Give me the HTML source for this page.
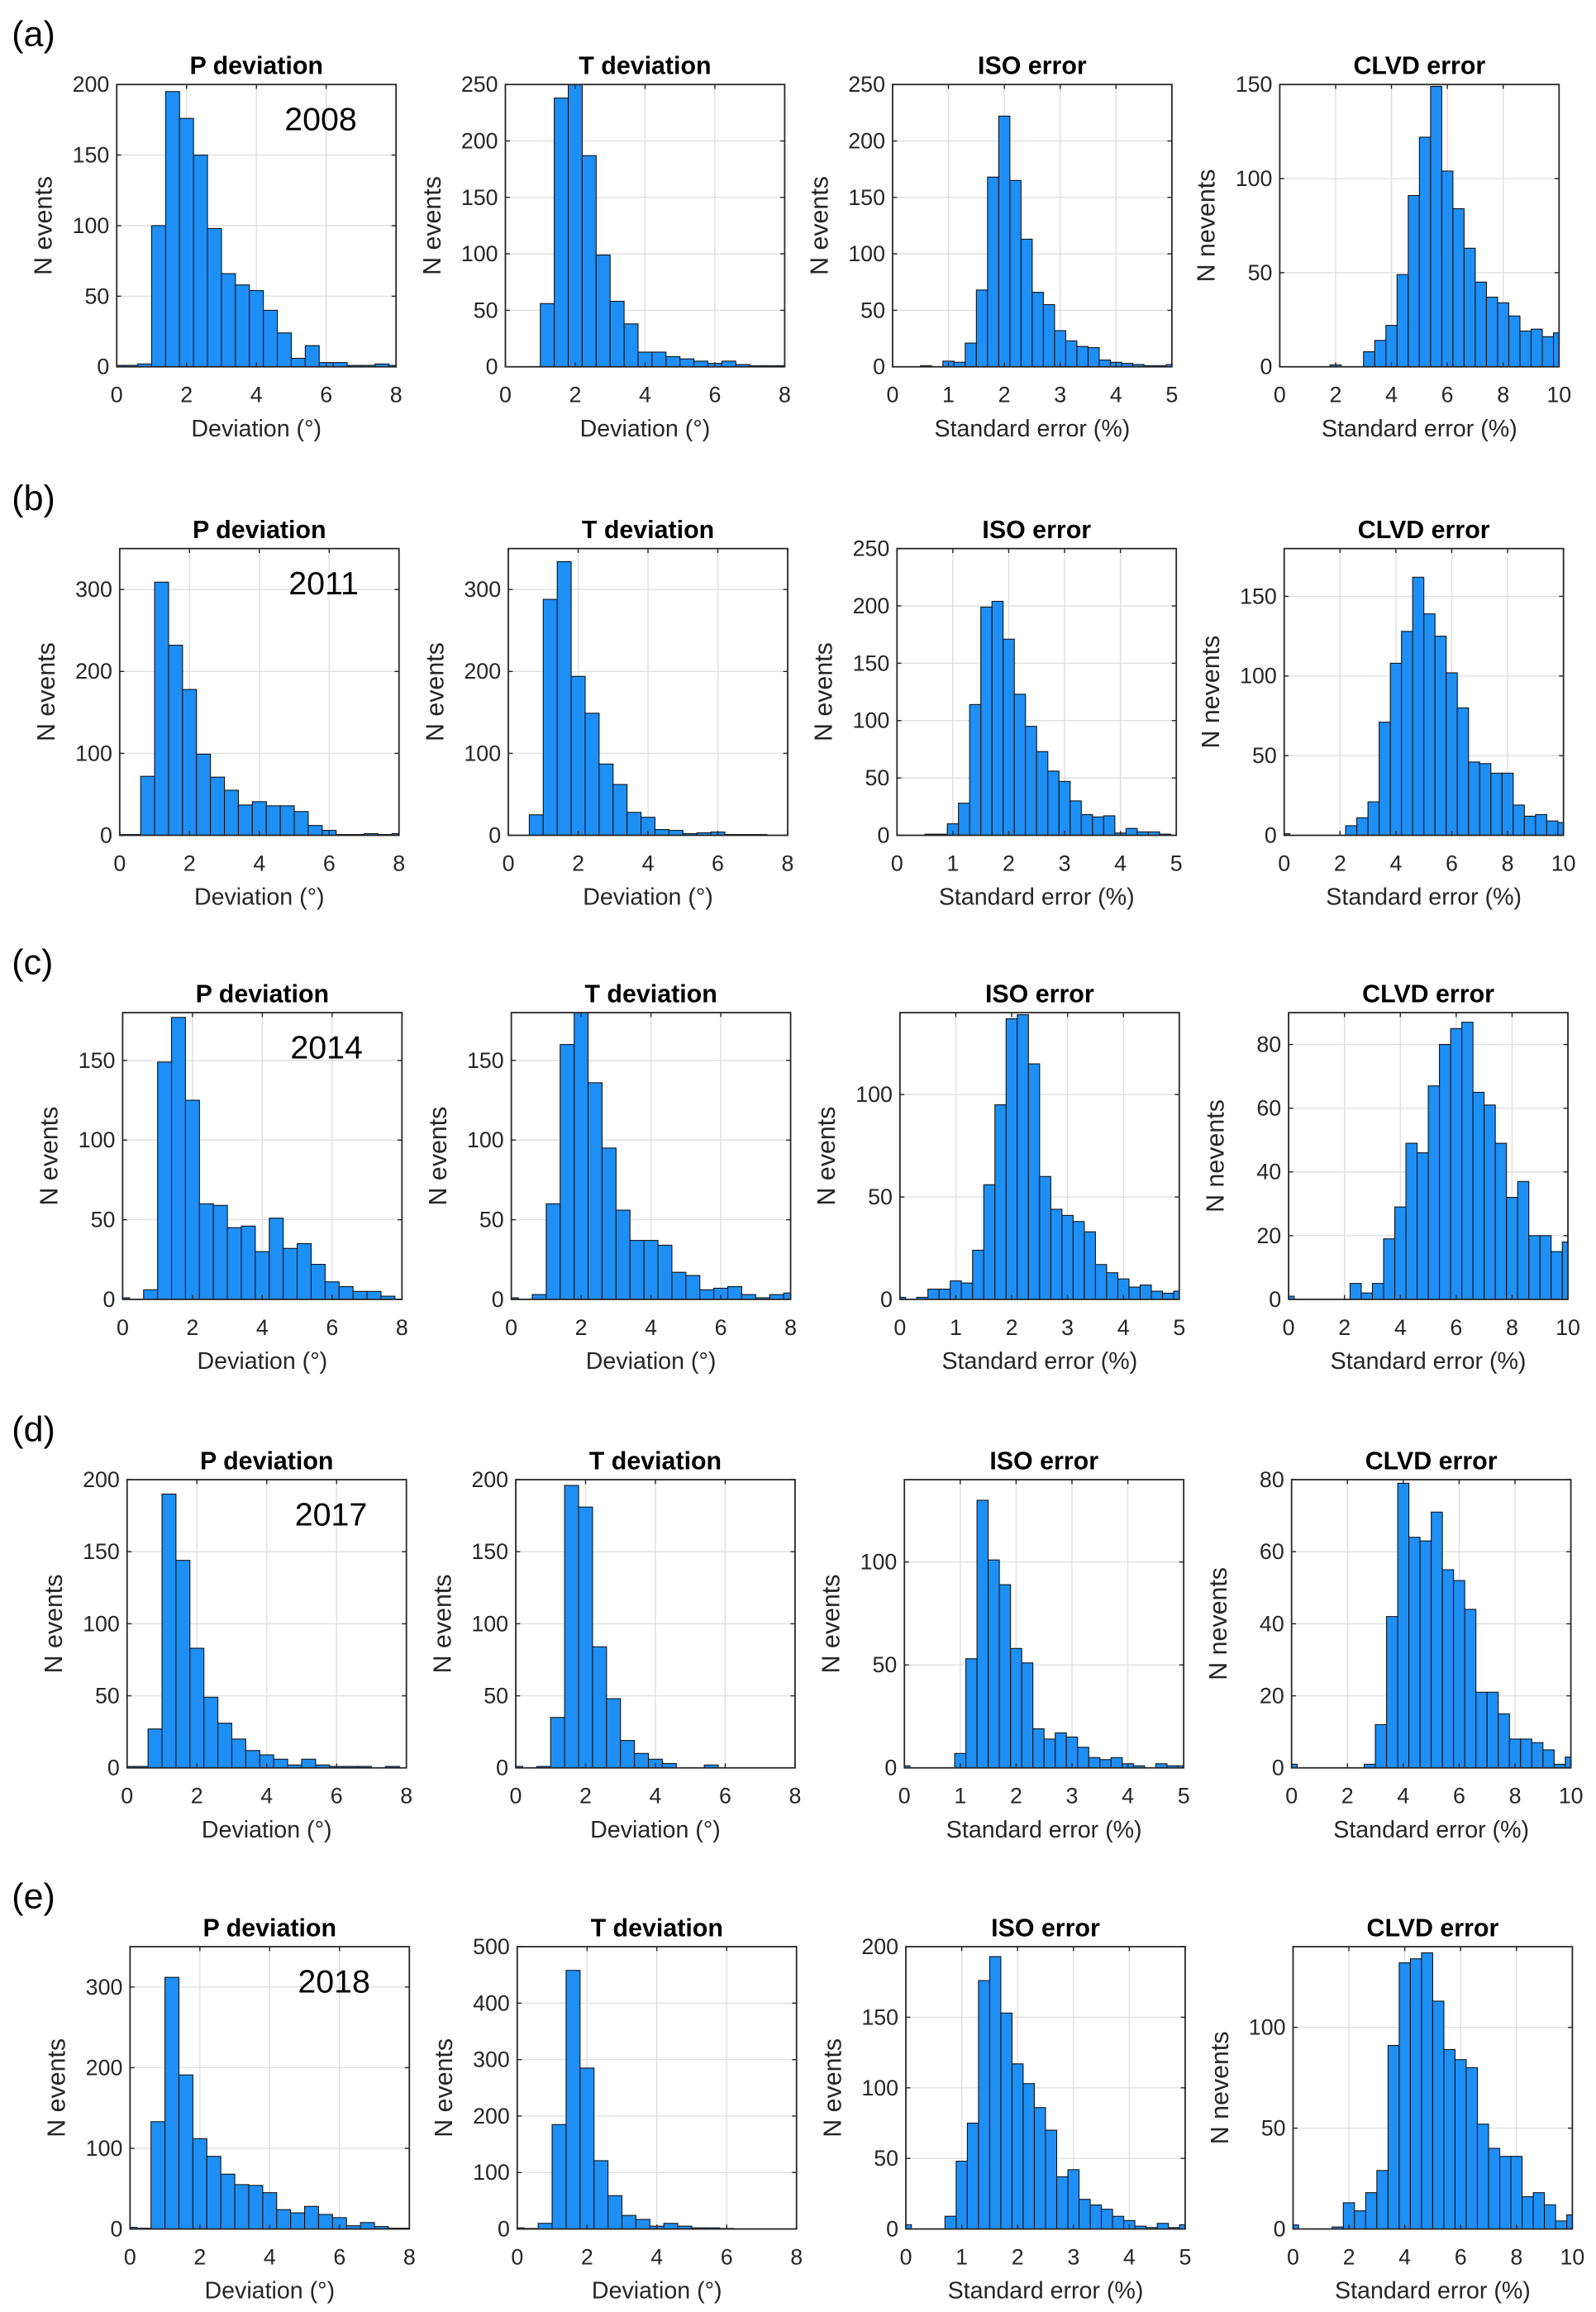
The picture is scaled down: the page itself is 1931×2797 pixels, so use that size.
<!DOCTYPE html>
<html><head><meta charset="utf-8"><style>
html,body{margin:0;padding:0;background:#fff;}
svg{display:block;font-family:"Liberation Sans",sans-serif;}
</style></head><body>
<svg id="fig" xmlns="http://www.w3.org/2000/svg" width="1931" height="2797" viewBox="0 0 1080 1564"></svg>
<script>
// ---- data: bin counts (bins of fixed width starting at binStart) ----
const pTitles = ["P deviation","T deviation","ISO error","CLVD error"];
const years = ["2008","2011","2014","2017","2018"];
const panelLetters = ["(a)","(b)","(c)","(d)","(e)"];
const xMaxes = [8,8,5,10];
const xTickLists = [[0,2,4,6,8],[0,2,4,6,8],[0,1,2,3,4,5],[0,2,4,6,8,10]];
const xLabels = ["Deviation (°)","Deviation (°)","Standard error (%)","Standard error (%)"];
const yLabels = ["N events","N events","N events","N nevents"];
const binStarts = [-0.2,-0.2,-0.1,-0.2];
const binWidths = [0.4,0.4,0.2,0.4];
const yMaxes = [[200,250,250,150],[350,350,250,180],[180,180,140,90],[200,200,140,80],[350,500,200,140]];
const ySteps = [[50,50,50,50],[100,100,50,50],[50,50,50,20],[50,50,50,20],[100,100,50,50]];

const valsA = [
 [1,1,2,100,195,176,150,98,66,58,54,40,24,6,15,3,3,1,1,2,1],
 [0,0,0,56,238,250,187,99,58,38,13,13,9,7,5,3,5,2,1,1,1],
 [0,0,0,1,0,5,4,21,68,168,222,165,113,66,55,32,23,18,17,6,4,3,2,1,1,2],
 [0,0,0,0,0,1,0,0,8,14,22,49,91,122,149,104,84,63,45,37,34,27,19,20,16,18]
];
const valsB = [
 [1,1,72,309,232,178,99,71,55,37,41,36,36,29,12,6,1,1,2,1,2],
 [0,0,25,288,334,194,149,87,62,28,22,7,6,2,3,4,1,1,1,0,0],
 [0,0,0,1,1,10,28,114,199,204,171,123,95,73,56,47,30,18,16,17,2,6,3,3,1,0],
 [1,0,0,0,0,0,6,11,21,71,108,128,162,139,125,102,80,46,45,39,39,19,12,13,9,8]
];
const valsC = [
 [1,0,6,149,177,125,60,59,45,46,30,51,32,35,22,11,8,5,5,2,0],
 [1,0,3,60,160,180,136,95,56,37,37,34,17,15,6,7,8,3,1,3,4],
 [1,0,1,5,5,9,8,24,56,95,137,139,115,60,44,41,38,33,17,13,10,6,7,4,3,4],
 [1,0,0,0,0,0,5,2,5,19,29,49,46,67,80,85,87,65,61,49,32,37,20,20,15,18]
];
const valsD = [
 [1,1,27,190,144,83,49,31,20,12,9,6,2,6,2,1,1,1,0,1,0],
 [1,0,1,35,196,181,84,48,19,10,6,3,0,0,2,0,0,0,0,0,0],
 [1,0,0,0,0,7,53,130,101,89,58,51,19,14,17,15,10,5,4,5,2,1,0,2,1,1],
 [1,0,0,0,0,0,0,1,12,42,79,64,63,71,55,52,44,21,21,15,8,8,7,5,1,3]
];
const valsE = [
 [2,1,133,312,191,112,90,68,55,54,45,24,20,28,18,14,4,8,3,1,1],
 [2,1,10,185,458,285,121,59,24,17,5,10,5,2,2,1,0,0,0,0,0],
 [3,0,0,0,9,48,75,176,193,153,117,103,86,70,37,42,21,17,14,9,6,2,1,4,1,3],
 [2,0,0,0,1,13,9,18,29,91,132,134,137,113,89,84,80,52,40,36,36,16,18,12,4,7]
];
const allVals = [valsA,valsB,valsC,valsD,valsE];

// ---- layout (viewBox units) ----
const rowLefts = [[79,342,604,866],[81,344,607,869],[83,346,609,872],[86,349,612,874],[88,350,613,875]];
const rowTops = [57,371,685,1001,1317];
const rowBottoms = [248,565,879,1196,1508];
const axW = 189;

const NS = "http://www.w3.org/2000/svg";
const svg = document.getElementById("fig");
function mk(tag, attrs, parent){
  const e = document.createElementNS(NS, tag);
  for (const k in attrs) e.setAttribute(k, attrs[k]);
  (parent||svg).appendChild(e);
  return e;
}
const defs = mk("defs",{});

for (let r=0;r<5;r++){
  const letter = mk("text",{x:8,y:rowTops[r]-26,"font-size":24,fill:"#000"});
  
  
  letter.textContent = panelLetters[r];
  for (let c=0;c<4;c++){
    const L = rowLefts[r][c], T = rowTops[r], B = rowBottoms[r], R = L+axW;
    const xmax = xMaxes[c], ymax = yMaxes[r][c];
    const sx = v => L + v/xmax*axW;
    const sy = v => B - v/ymax*(B-T);
    const g = mk("g",{});
    
    
    const cid = "clip"+r+"_"+c;
    const cp = mk("clipPath",{id:cid},defs);
    mk("rect",{x:L,y:T,width:axW,height:B-T},cp);
    // grid
    for (const t of xTickLists[c]){
      if (t>0 && t<xmax) mk("line",{x1:sx(t),x2:sx(t),y1:T,y2:B,stroke:"#e0e0e0","stroke-width":0.8},g);
    }
    for (let t=0;t<=ymax;t+=ySteps[r][c]){
      if (t>0 && t<ymax) mk("line",{x1:L,x2:R,y1:sy(t),y2:sy(t),stroke:"#e0e0e0","stroke-width":0.8},g);
    }
    // bars
    const bg = mk("g",{"clip-path":"url(#"+cid+")"},g);
    const vals = allVals[r][c];
    for (let i=0;i<vals.length;i++){
      const x0 = binStarts[c]+i*binWidths[c], x1 = x0+binWidths[c];
      const y = sy(vals[i]);
      const b = mk("rect",{x:sx(x0),y:y,width:sx(x1)-sx(x0),height:B-y,fill:"#1e8ff5",stroke:"#111","stroke-width":0.6},bg);
      
      
    }
    // box
    mk("rect",{x:L,y:T,width:axW,height:B-T,fill:"none",stroke:"#262626","stroke-width":1},g);
    // ticks & labels
    for (const t of xTickLists[c]){
      mk("line",{x1:sx(t),x2:sx(t),y1:B,y2:B-3,stroke:"#262626","stroke-width":0.8},g);
      mk("line",{x1:sx(t),x2:sx(t),y1:T,y2:T+3,stroke:"#262626","stroke-width":0.8},g);
      const tx = mk("text",{x:sx(t),y:B+24,"font-size":15,"text-anchor":"middle",fill:"#262626"},g);
      
      
      tx.textContent = t;
    }
    for (let t=0;t<=ymax;t+=ySteps[r][c]){
      mk("line",{x1:L,x2:L+3,y1:sy(t),y2:sy(t),stroke:"#262626","stroke-width":0.8},g);
      mk("line",{x1:R,x2:R-3,y1:sy(t),y2:sy(t),stroke:"#262626","stroke-width":0.8},g);
      const ty = mk("text",{x:L-5,y:sy(t)+5,"font-size":15,"text-anchor":"end",fill:"#262626"},g);
      
      
      ty.textContent = t;
    }
    const tt = mk("text",{x:L+axW/2,y:T-7,"font-size":17,"font-weight":"bold","text-anchor":"middle",fill:"#000"},g);
    
    
    tt.textContent = pTitles[c];
    const xl = mk("text",{x:L+axW/2,y:B+47,"font-size":16,"text-anchor":"middle",fill:"#262626"},g);
    
    
    xl.textContent = xLabels[c];
    const yx = L-44, yy = (T+B)/2;
    const yl = mk("text",{x:yx,y:yy,"font-size":17,"text-anchor":"middle",fill:"#262626",transform:"rotate(-90 "+yx+" "+yy+")"},g);
    
    
    yl.textContent = yLabels[c];
    if (c===0){
      const yr = mk("text",{x:L+138,y:T+31,"font-size":22,"text-anchor":"middle",fill:"#000"},g);
      
      
      yr.textContent = years[r];
    }
  }
}
</script>
</body></html>
